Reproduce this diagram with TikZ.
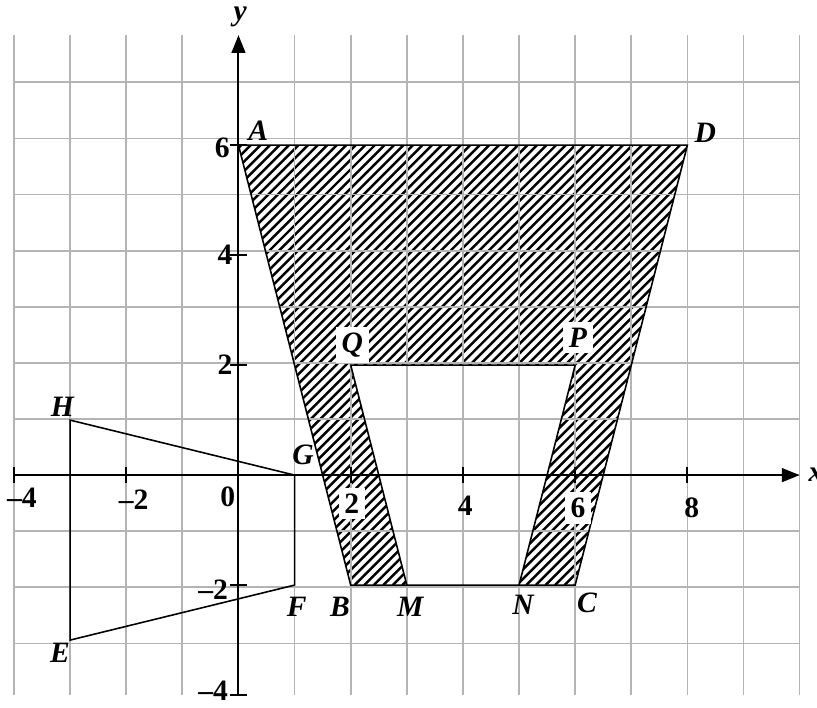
\documentclass[tikz,border=0pt]{standalone}
\usepackage{fontspec}
\setmainfont{Liberation Serif}
\usetikzlibrary{arrows.meta}
\definecolor{gridgray}{RGB}{180,180,180}
\begin{document}
\begin{tikzpicture}[x=1cm,y=0.98cm,
  gridline/.style={draw=gridgray,line width=0.9pt},
  axisline/.style={line width=1pt,-{Triangle[length=9pt,width=7pt]}},
  tickline/.style={line width=1pt},
  outline/.style={line width=0.8pt},
  hatchline/.style={line width=1.25pt},
  ptlabel/.style={font=\fontsize{15}{17}\selectfont\bfseries\itshape,inner sep=1pt},
  numlabel/.style={font=\fontsize{15}{17}\selectfont\bfseries,inner sep=1pt},
  wbox/.style={fill=white,inner sep=3pt}]
\useasboundingbox (-4.25,-4.22) rectangle (10.31,8.64);
% points
\coordinate (A) at (0,6);
\coordinate (D) at (8,6);
\coordinate (C) at (6,-2);
\coordinate (B) at (2,-2);
\coordinate (Q) at (2,2);
\coordinate (P) at (6,2);
\coordinate (N) at (5,-2);
\coordinate (M) at (3,-2);
\coordinate (H) at (-3,1);
\coordinate (G) at (1,0);
\coordinate (F) at (1,-2);
\coordinate (E) at (-3,-3);
% hatched region
\begin{scope}
\clip (A) -- (D) -- (C) -- (N) -- (P) -- (Q) -- (M) -- (B) -- cycle;
\foreach \i in {0,...,115}
  \draw[hatchline] ({-10+\i*0.17},-2) -- ++(10cm,10cm);
\end{scope}
% grid
\draw[gridline] (-4,-4) grid (10,8);
% axes
\coordinate (xs) at (-4,0);
\coordinate (xe) at (10,0);
\coordinate (ys) at (0,-4);
\coordinate (ye) at (0,8);
\draw[axisline] (xs) -- (xe);
\draw[axisline] (ys) -- (ye);
\foreach \t in {-4,-2,2,4,6,8} \draw[tickline] (\t,-0.15) -- (\t,0.15);
\foreach \t in {-4,-2,2,4,6} \draw[tickline] (-0.15,\t) -- (0.15,\t);
% outlines
\draw[outline] (A) -- (D) -- (C) -- (B) -- cycle;
\draw[outline] (M) -- (Q) -- (P) -- (N);
\draw[outline] (H) -- (G) -- (F) -- (E) -- cycle;
% axis labels
\node[ptlabel] (ylab) at (0.03,8.33) {y};
\node[ptlabel,anchor=west] (xlab) at (10.12,0.0) {x};
% numbers
\node[numlabel] (n0) at (-0.19,-0.4) {0};
\node[numlabel] (nxm4) at (-3.86,-0.42) {–4};
\node[numlabel] (nxm2) at (-1.87,-0.45) {–2};
\node[numlabel,wbox] (nx2) at (2.02,-0.52) {2};
\node[numlabel] (nx4) at (4.04,-0.55) {4};
\node[numlabel,wbox] (nx6) at (6.05,-0.6) {6};
\node[numlabel] (nx8) at (8.08,-0.6) {8};
\node[numlabel] (ny6) at (-0.29,5.95) {6};
\node[numlabel] (ny4) at (-0.24,4.0) {4};
\node[numlabel] (ny2) at (-0.24,2.0) {2};
\node[numlabel] (nym2) at (-0.45,-2.09) {–2};
\node[numlabel] (nym4) at (-0.45,-3.93) {–4};
% point labels
\node[ptlabel] (lA) at (0.35,6.27) {A};
\node[ptlabel] (lD) at (8.32,6.22) {D};
\node[ptlabel,wbox] (lQ) at (2.03,2.36) {Q};
\node[ptlabel,wbox] (lP) at (6.05,2.5) {P};
\node[ptlabel] (lH) at (-3.14,1.24) {H};
\node[ptlabel] (lG) at (1.15,0.36) {G};
\node[ptlabel] (lF) at (1.04,-2.4) {F};
\node[ptlabel] (lB) at (1.81,-2.4) {B};
\node[ptlabel] (lM) at (3.06,-2.4) {M};
\node[ptlabel] (lN) at (5.07,-2.36) {N};
\node[ptlabel] (lC) at (6.21,-2.33) {C};
\node[ptlabel] (lE) at (-3.18,-3.24) {E};
\end{tikzpicture}
\end{document}
